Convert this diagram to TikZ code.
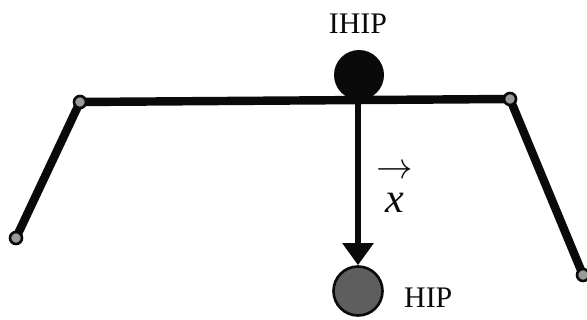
\documentclass[tikz,border=0pt]{standalone}
\usepackage{fontspec}
\setmainfont{Liberation Serif}
\usetikzlibrary{arrows.meta}
\definecolor{ink}{HTML}{0A0A0A}
\definecolor{joint}{HTML}{9A9A9A}
\definecolor{hipgray}{HTML}{5E5E5E}

\begin{document}
\begin{tikzpicture}[x=0.02cm,y=-0.02cm,text=ink,
 font=\fontsize{17}{20}\selectfont,
 limb/.style={draw=ink,line width=4.8pt,line cap=round},
 jointdot/.style={circle,fill=joint,draw=ink,line width=1.5pt,minimum size=0.24cm,inner sep=0pt},
 vec/.style={-{Triangle[length=0.44cm,width=0.6cm]},draw=ink,line width=3.8pt}]
\useasboundingbox (0,0) rectangle (587,320);
\clip (0,0) rectangle (587,320);
% skeleton
\coordinate (lend) at (16,238);
\coordinate (ljoint) at (80,102);
\coordinate (rjoint) at (510,99);
\coordinate (rend) at (583,275);
\coordinate (mid) at (358,100);
\draw[limb] (lend)--(ljoint)--(rjoint)--(rend);
\node[jointdot] (lj) at (ljoint) {};
\node[jointdot] (rj) at (rjoint) {};
\node[jointdot] (le) at (lend) {};
\node[jointdot] (re) at (rend) {};
% haptic points
\node[circle,fill=ink,minimum size=1.0cm,inner sep=0pt] (ihip) at (359,75) {};
\node (ihiplbl) at (358,24) {IHIP};
\node[circle,fill=hipgray,draw=ink,line width=1.5pt,minimum size=0.98cm,inner sep=0pt] (hip) at (358,291) {};
\node[anchor=west] (hiplbl) at (398,298) {HIP};
\draw[vec] (mid)--(hip.north);
\node[align=center,inner sep=0pt] (xlbl) at (395,189)
 {{\fontsize{22}{22}\selectfont$\rightarrow$}\\[-1pt]{\fontsize{24}{24}\selectfont\textit{x}}};
\end{tikzpicture}
\end{document}
